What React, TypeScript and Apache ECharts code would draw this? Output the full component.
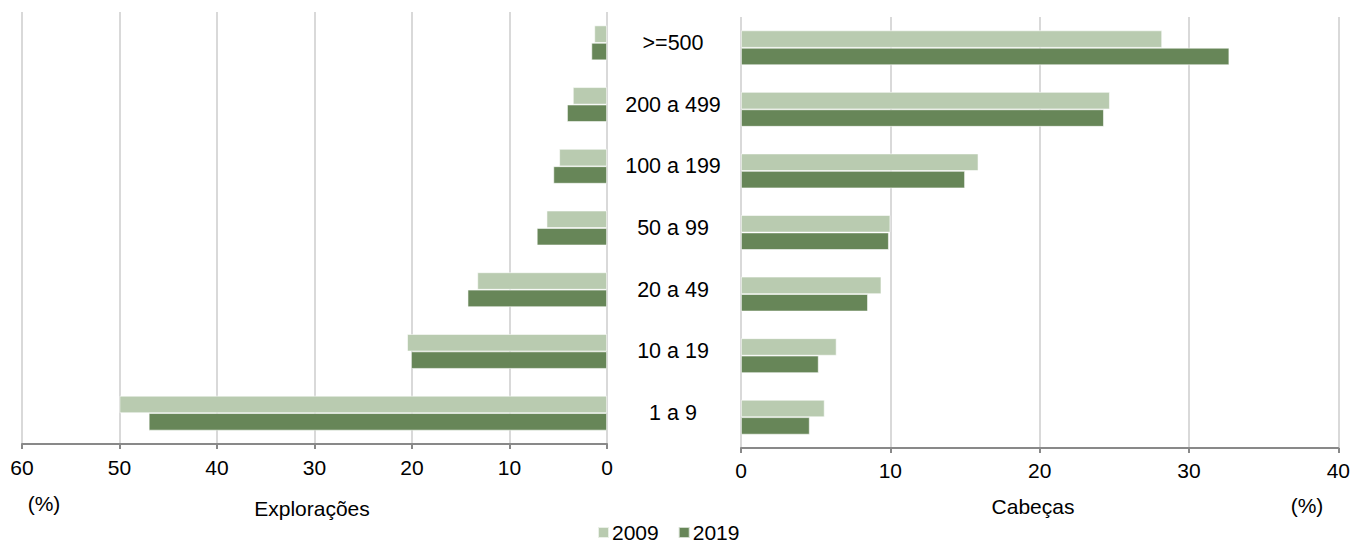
import React, { useEffect, useRef } from "react";
import * as echarts from "echarts";

const categories = [">=500", "200 a 499", "100 a 199", "50 a 99", "20 a 49", "10 a 19", "1 a 9"];
const seriesNames = ["2009", "2019"];
const exploracoes2009 = [1.3, 3.5, 4.9, 6.2, 13.3, 20.5, 50.0];
const exploracoes2019 = [1.6, 4.1, 5.5, 7.2, 14.3, 20.1, 47.0];
const cabecas2009 = [28.2, 24.7, 15.9, 10.0, 9.4, 6.4, 5.6];
const cabecas2019 = [32.7, 24.3, 15.0, 9.9, 8.5, 5.2, 4.6];
const leftTicks = { min: 0, max: 60, interval: 10 };
const rightTicks = { min: 0, max: 40, interval: 10 };

const LIGHT = "#b9cbb0";
const DARK = "#678658";
const FONT = "Liberation Sans, Arial, sans-serif";

export default function App() {
  const ref = useRef<HTMLDivElement>(null);
  useEffect(() => {
    if (!ref.current) return;
    const chart = echarts.init(ref.current, undefined, { renderer: "svg" });
    const axisCommon = {
      type: "value" as const,
      splitLine: { show: true, lineStyle: { color: "#d9d9d9", width: 2 } },
      axisLine: { show: true, lineStyle: { color: "#898989", width: 2 } },
      axisTick: { show: true, length: 5, lineStyle: { color: "#898989", width: 2 } },
      axisLabel: { color: "#000", fontSize: 21, fontFamily: FONT },
    };
    const barCommon = {
      type: "bar" as const,
      barWidth: 17.4,
      barGap: "0%",
      itemStyle: { borderWidth: 0.8, borderColor: "rgba(255,255,255,0.7)" },
    };
    chart.setOption({
      animation: false,
      textStyle: { fontFamily: FONT },
      grid: [
        { left: 22, width: 585, top: 12, height: 432, containLabel: false },
        { left: 741, width: 598, top: 17, height: 431, containLabel: false },
      ],
      xAxis: [
        {
          ...axisCommon,
          gridIndex: 0,
          inverse: true,
          min: leftTicks.min,
          max: leftTicks.max,
          interval: leftTicks.interval,
          axisLabel: { ...axisCommon.axisLabel, margin: 13 },
        },
        {
          ...axisCommon,
          gridIndex: 1,
          min: rightTicks.min,
          max: rightTicks.max,
          interval: rightTicks.interval,
          axisLabel: { ...axisCommon.axisLabel, margin: 12 },
        },
      ],
      yAxis: [
        {
          type: "category",
          gridIndex: 0,
          data: categories,
          inverse: true,
          position: "right",
          axisLine: { show: false },
          axisTick: { show: false },
          splitLine: { show: false },
          axisLabel: { color: "#000", fontSize: 21.5, fontFamily: FONT, align: "center", margin: 66 },
        },
        {
          type: "category",
          gridIndex: 1,
          data: categories,
          inverse: true,
          axisLine: { show: false },
          axisTick: { show: false },
          splitLine: { show: false },
          axisLabel: { show: false },
        },
      ],
      legend: {
        data: seriesNames,
        left: 597,
        top: 522,
        padding: 0,
        icon: "rect",
        itemWidth: 11,
        itemHeight: 11,
        itemGap: 19,
        textStyle: { color: "#000", fontSize: 21, fontFamily: FONT, padding: [0, 0, 0, -2] },
      },
      series: [
        { ...barCommon, name: seriesNames[0], xAxisIndex: 0, yAxisIndex: 0, data: exploracoes2009, itemStyle: { ...barCommon.itemStyle, color: LIGHT } },
        { ...barCommon, name: seriesNames[1], xAxisIndex: 0, yAxisIndex: 0, data: exploracoes2019, itemStyle: { ...barCommon.itemStyle, color: DARK } },
        { ...barCommon, name: seriesNames[0], xAxisIndex: 1, yAxisIndex: 1, data: cabecas2009, itemStyle: { ...barCommon.itemStyle, color: LIGHT } },
        { ...barCommon, name: seriesNames[1], xAxisIndex: 1, yAxisIndex: 1, data: cabecas2019, itemStyle: { ...barCommon.itemStyle, color: DARK } },
      ],
      graphic: [
        { type: "text", x: 44, y: 503, style: { text: "(%)", fontSize: 21, fontFamily: FONT, fill: "#000", textAlign: "center", textVerticalAlign: "middle" } },
        { type: "text", x: 312, y: 508, style: { text: "Explorações", fontSize: 21, fontFamily: FONT, fill: "#000", textAlign: "center", textVerticalAlign: "middle" } },
        { type: "text", x: 1033, y: 506, style: { text: "Cabeças", fontSize: 21, fontFamily: FONT, fill: "#000", textAlign: "center", textVerticalAlign: "middle" } },
        { type: "text", x: 1307, y: 505, style: { text: "(%)", fontSize: 21, fontFamily: FONT, fill: "#000", textAlign: "center", textVerticalAlign: "middle" } },
      ],
    });
    return () => chart.dispose();
  }, []);
  return <div ref={ref} style={{ position: "absolute", left: 0, top: 0, width: 1353, height: 544 }} />;
}
